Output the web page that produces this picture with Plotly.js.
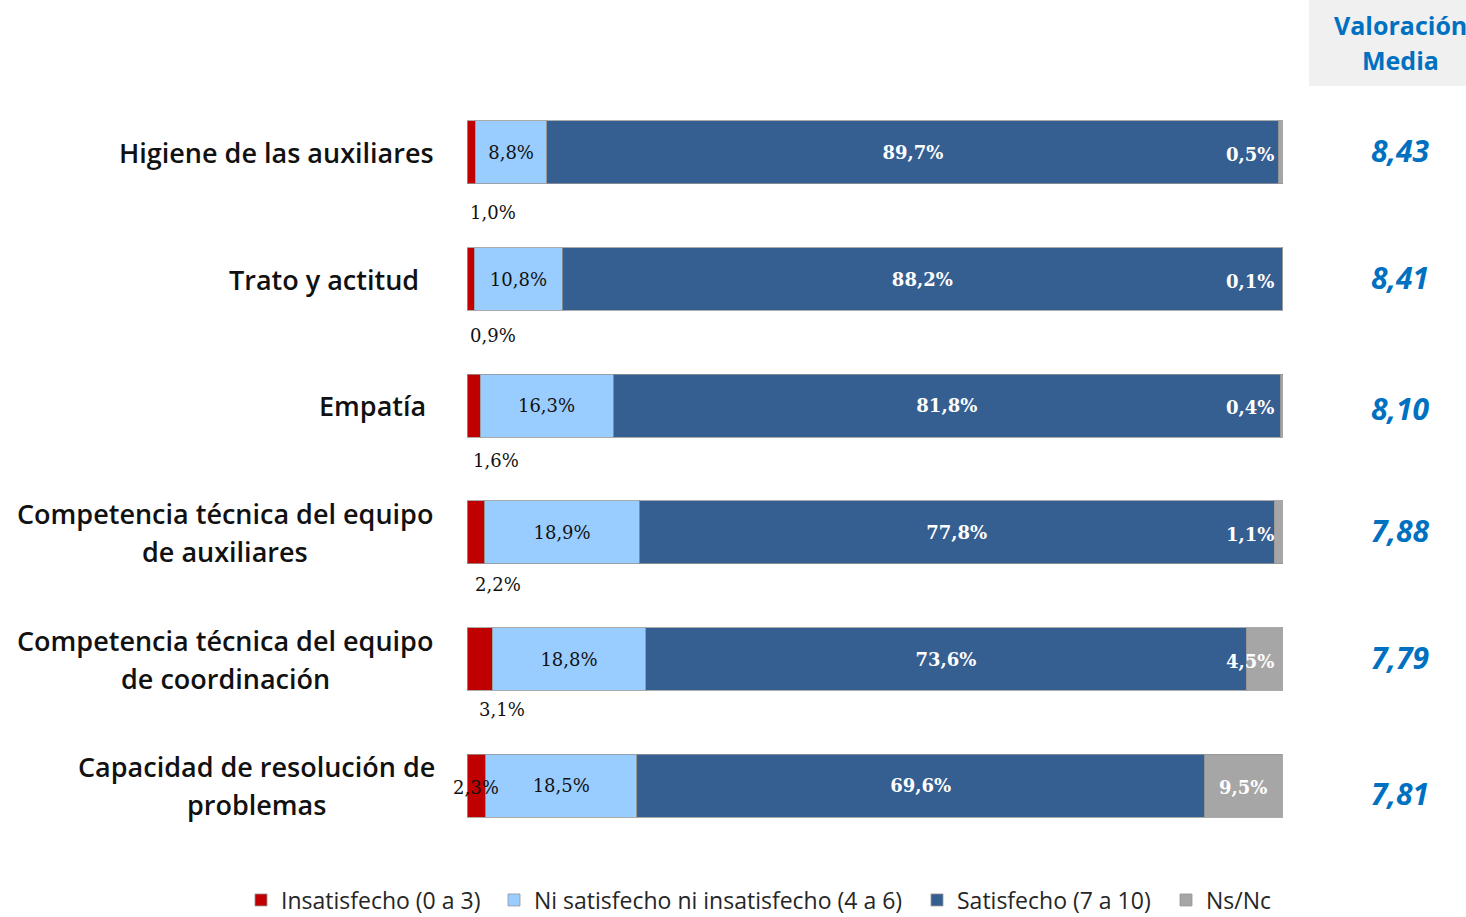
<!DOCTYPE html>
<html><head><meta charset="utf-8">
<script src="https://cdn.plot.ly/plotly-3.0.1.min.js"></script>
<style>html,body{margin:0;padding:0;background:#fff}#chart{width:1466px;height:917px}</style>
</head><body><div id="chart"></div>
<script>
const categories = ['Higiene de las auxiliares','Trato y actitud','Empatía','Competencia técnica del equipo<br>de auxiliares','Competencia técnica del equipo<br>de coordinación','Capacidad de resolución de<br>problemas'];
const insatisfecho = [1.0, 0.9, 1.6, 2.2, 3.1, 2.3];
const niSatisfecho = [8.8, 10.8, 16.3, 18.9, 18.8, 18.5];
const satisfecho = [89.7, 88.2, 81.8, 77.8, 73.6, 69.6];
const nsnc = [0.5, 0.1, 0.4, 1.1, 4.5, 9.5];
const valoracionMedia = ['8,43', '8,41', '8,10', '7,88', '7,79', '7,81'];
const seriesNames = ['Insatisfecho (0 a 3)', 'Ni satisfecho ni insatisfecho (4 a 6)', 'Satisfecho (7 a 10)', 'Ns/Nc'];
const headerText = ['Valoración', 'Media'];

const fmt = v => v.toFixed(1).replace('.', ',') + '%';
const colors = ['#C00000', '#99CCFF', '#355E91', '#A6A6A6'];
const lineStyle = {color: 'rgba(150,150,150,0.8)', width: 1};
const serif = 'DejaVu Serif';
const legendIds = ['legend', 'legend2', 'legend3', 'legend4'];

function barTrace(vals, i, withText, textFont) {
  const t = {
    type: 'bar', orientation: 'h', y: categories, x: vals, name: seriesNames[i],
    marker: {color: colors[i], line: lineStyle}, hoverinfo: 'skip', legend: legendIds[i]
  };
  if (withText) {
    t.text = vals.map(fmt);
    t.textposition = 'inside';
    t.insidetextanchor = 'middle';
    t.textangle = 0;
    t.constraintext = 'none';
    t.textfont = textFont;
  } else {
    t.textposition = 'none';
  }
  return t;
}

const data = [
  barTrace(insatisfecho, 0, false),
  barTrace(niSatisfecho, 1, true, {family: serif, size: 18, color: '#111'}),
  barTrace(satisfecho, 2, true, {family: serif, size: 18, color: '#fff', weight: 'bold'}),
  barTrace(nsnc, 3, false)
];

// plot area in pixels: x 467..1283, y 89..849
const L = 467, R = 1283, T = 89, B = 849;
const px = x => (x - L) / (R - L);
const py = y => (B - y) / (B - T);

const annotations = [];
const labelShift = [0, -15, -8, 0, 0, 0];
const redShift = [-60, -56, -55, -52, -50, -2];
categories.forEach((c, i) => {
  const lines = c.split('<br>');
  lines.forEach((ln, k) => {
    annotations.push({
      text: ln, xref: 'paper', yref: 'y', x: px(436), y: c,
      xanchor: lines.length > 1 ? 'center' : 'right', yanchor: 'middle',
      xshift: lines.length > 1 ? -(436 - 225) + (i === 5 ? 31 : 0) : labelShift[i],
      yshift: lines.length > 1 ? (k === 0 ? 19 : -19) : 0,
      showarrow: false, font: {family: 'Open Sans', size: 27, weight: 600, color: '#111'}
    });
  });
  // red labels
  const last = i === categories.length - 1;
  annotations.push({
    text: fmt(insatisfecho[i]), xref: 'x', yref: 'y', x: insatisfecho[i] / 2, y: c,
    xanchor: last ? 'center' : 'left', yanchor: 'middle', xshift: last ? 0 : -3,
    yshift: redShift[i], showarrow: false,
    font: {family: serif, size: 18, color: '#111'}
  });
  // Ns/Nc labels
  const start = insatisfecho[i] + niSatisfecho[i] + satisfecho[i];
  annotations.push({
    text: fmt(nsnc[i]), xref: 'x', yref: 'y',
    x: last ? start + nsnc[i] / 2 : 100, y: c,
    xanchor: last ? 'center' : 'right', yanchor: 'middle', xshift: last ? 0 : -7,
    yshift: -2, showarrow: false, font: {family: serif, size: 18, color: '#fff', weight: 'bold'}
  });
  // valoración media
  annotations.push({
    text: valoracionMedia[i], xref: 'paper', yref: 'y', x: px(1400), y: c,
    xanchor: 'center', yanchor: 'middle', yshift: i === 5 ? -8 : (i === 2 ? -3 : 2), showarrow: false,
    font: {family: 'Open Sans', size: 30, weight: 700, style: 'italic', color: '#0070C0'}
  });
});
headerText.forEach((h, k) => {
  annotations.push({
    text: h, xref: 'paper', yref: 'paper', x: px(1400), y: py(k === 0 ? 25 : 60),
    xanchor: 'center', yanchor: 'middle', showarrow: false,
    font: {family: 'Open Sans', size: 25, weight: 700, color: '#0070C0'}
  });
});

const legendX = [241, 494, 917, 1166];
function legendCfg(k) {
  return {
    orientation: 'h', x: px(legendX[k]), y: py(900), xanchor: 'left', yanchor: 'middle',
    font: {family: 'Open Sans', size: 23, color: '#262626'},
    bgcolor: 'rgba(0,0,0,0)', itemclick: false, itemdoubleclick: false
  };
}

const layout = {
  width: 1466, height: 917,
  margin: {l: L, r: 1466 - R, t: T, b: 917 - B, autoexpand: false},
  paper_bgcolor: '#fff', plot_bgcolor: '#fff',
  barmode: 'stack', bargap: 0.505,
  hovermode: false,
  xaxis: {range: [0, 100], visible: false, fixedrange: true},
  yaxis: {range: [5.5, -0.5], autorange: false, visible: false, fixedrange: true, type: 'category'},
  showlegend: true,
  legend: legendCfg(0), legend2: legendCfg(1), legend3: legendCfg(2), legend4: legendCfg(3),
  shapes: [{
    type: 'rect', xref: 'paper', yref: 'paper', x0: px(1309), x1: px(1466), y0: py(86), y1: py(0),
    fillcolor: '#F0F0F0', line: {width: 0}, layer: 'below'
  }],
  annotations: annotations
};

Plotly.newPlot('chart', data, layout, {displayModeBar: false, staticPlot: true});
</script></body></html>
